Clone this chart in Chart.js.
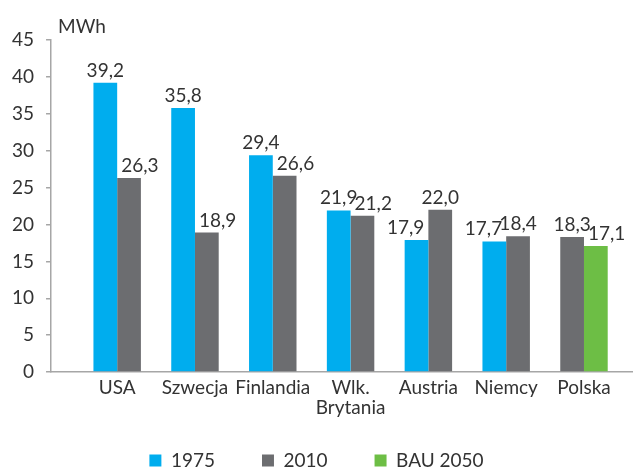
<!DOCTYPE html>
<html>
<head>
<meta charset="utf-8">
<script src="https://cdn.jsdelivr.net/npm/chart.js@4"></script>
<style>
  html, body { margin: 0; padding: 0; background: #fff; }
  #wrap { width: 633px; height: 468px; }
</style>
</head>
<body>
<div id="wrap"><canvas id="chart"></canvas></div>
<script>
/* ── Données ── */
const categories = ['USA', 'Szwecja', 'Finlandia', ['Wlk.', 'Brytania'], 'Austria', 'Niemcy', 'Polska'];
const values1975 = [39.2, 35.8, 29.4, 21.9, 17.9, 17.7, null];
const values2010 = [26.3, 18.9, 26.6, 21.2, 22.0, 18.4, 18.3];
const valuesBau2050 = [null, null, null, null, null, null, 17.1];
const yTicks = [0, 5, 10, 15, 20, 25, 30, 35, 40, 45];

const COLORS = {
  cyan: '#00ADEE',
  grey: '#6C6D70',
  green: '#6DBE45',
  text: '#333333',
  axis: '#A6A6A6',
};
const FONT = 'Lato, "Open Sans", sans-serif';
const FONT_SIZE = 19;

const toPoints = (arr) => arr.map((v, i) => ({ x: i, y: v }));
const fmt = (v) => v.toFixed(1).replace('.', ',');

/* ── Étiquettes de valeurs au-dessus des barres ── */
const valueLabels = {
  id: 'valueLabels',
  afterDatasetsDraw(chart) {
    const ctx = chart.ctx;
    ctx.save();
    ctx.font = FONT_SIZE + 'px ' + FONT;
    ctx.fillStyle = COLORS.text;
    ctx.textAlign = 'center';
    ctx.textBaseline = 'alphabetic';
    const gap = 4;
    const metas = chart.data.datasets.map((ds, di) => chart.getDatasetMeta(di));
    chart.data.datasets.forEach((ds, di) => {
      metas[di].data.forEach((bar, i) => {
        const v = ds.data[i].y;
        if (v === null) return;
        const text = fmt(v);
        const w = ctx.measureText(text).width;
        const baseY = bar.y - 6;
        let x = bar.x;
        // décaler l'étiquette si elle chevauche une barre voisine plus haute
        metas.forEach((m, dj) => {
          if (dj === di) return;
          const other = m.data[i];
          if (!other || chart.data.datasets[dj].data[i].y === null) return;
          if (other.y >= baseY + 4) return;
          const oLeft = other.x - other.width / 2;
          const oRight = other.x + other.width / 2;
          if (other.x > bar.x && x + w / 2 > oLeft - gap) x = oLeft - gap - w / 2;
          if (other.x < bar.x && x - w / 2 < oRight + gap) x = oRight + gap + w / 2;
        });
        ctx.fillText(text, x, baseY);
      });
    });
    ctx.restore();
  }
};

/* ── Unité en haut de l'axe + légende remontée ── */
const unitLabel = {
  id: 'unitLabel',
  afterLayout(chart) {
    // la légende garde un grand espacement horizontal, on la remonte un peu
    if (chart.legend) {
      chart.legend.top -= 20;
      chart.legend.bottom -= 20;
    }
  },
  afterDraw(chart) {
    const ctx = chart.ctx;
    const area = chart.chartArea;
    ctx.save();
    ctx.font = FONT_SIZE + 'px ' + FONT;
    ctx.fillStyle = COLORS.text;
    ctx.textAlign = 'left';
    ctx.textBaseline = 'middle';
    ctx.fillText('MWh', area.left + 7, area.top - 13);
    ctx.restore();
  }
};

new Chart(document.getElementById('chart'), {
  type: 'bar',
  data: {
    datasets: [
      { label: '1975', data: toPoints(values1975), backgroundColor: COLORS.cyan },
      { label: '2010', data: toPoints(values2010), backgroundColor: COLORS.grey },
      { label: 'BAU 2050', data: toPoints(valuesBau2050), backgroundColor: COLORS.green },
    ]
  },
  options: {
    responsive: true,
    maintainAspectRatio: false,
    animation: false,
    skipNull: true,
    categoryPercentage: 0.61,
    barPercentage: 1,
    layout: { padding: { top: 40, left: 0, right: 0, bottom: -32 } },
    plugins: {
      tooltip: { enabled: false },
      legend: {
        position: 'bottom',
        labels: {
          boxWidth: 12,
          boxHeight: 12,
          padding: 47,
          color: COLORS.text,
          font: { family: FONT, size: FONT_SIZE },
        }
      }
    },
    scales: {
      x: {
        type: 'linear',
        offset: false,
        min: -0.85,
        max: 6.63,
        grid: { display: false, drawTicks: false, offset: false },
        border: { display: true, color: COLORS.axis, width: 1.5 },
        ticks: {
          stepSize: 1,
          includeBounds: false,
          autoSkip: false,
          maxRotation: 0,
          padding: 6,
          color: COLORS.text,
          font: { family: FONT, size: FONT_SIZE, lineHeight: 1.05 },
          callback: (v) => (Number.isInteger(v) && categories[v] !== undefined) ? categories[v] : '',
        }
      },
      y: {
        min: 0,
        max: 45,
        afterBuildTicks: (axis) => { axis.ticks = yTicks.map(v => ({ value: v })); },
        grid: { drawOnChartArea: false, drawTicks: true, tickLength: 5, color: COLORS.axis, lineWidth: 1.5 },
        border: { display: true, color: COLORS.axis, width: 1.5 },
        ticks: {
          padding: 12,
          color: COLORS.text,
          font: { family: FONT, size: FONT_SIZE },
        }
      }
    }
  },
  plugins: [valueLabels, unitLabel]
});
</script>
</body>
</html>
